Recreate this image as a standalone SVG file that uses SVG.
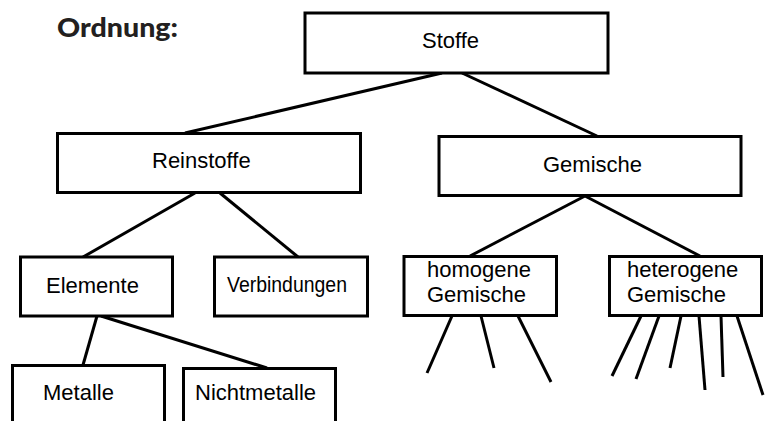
<svg xmlns="http://www.w3.org/2000/svg" width="767" height="421" viewBox="0 0 767 421">
  <style>
    .box { fill: #ffffff; stroke: #000000; stroke-width: 3; }
    .edge { fill: none; stroke: #000000; stroke-width: 3; stroke-linecap: butt; }
    .label { font-family: "Liberation Sans", Arial, sans-serif; font-size: 22px; fill: #000000; }
    .title { font-family: Lato, "Open Sans", sans-serif; font-weight: 900; font-size: 27px; fill: #231f20; }
  </style>

  <text class="title" x="57" y="37" textLength="121" lengthAdjust="spacingAndGlyphs">Ordnung:</text>

  <g id="connectors">
    <!-- Stoffe -->
    <line class="edge" x1="442" y1="73" x2="185" y2="133"/>
    <line class="edge" x1="462" y1="73" x2="597" y2="136"/>
    <!-- Reinstoffe -->
    <line class="edge" x1="195" y1="193" x2="83" y2="257"/>
    <line class="edge" x1="220" y1="193" x2="298" y2="257"/>
    <!-- Gemische -->
    <line class="edge" x1="585" y1="196" x2="470" y2="256"/>
    <line class="edge" x1="585" y1="196" x2="700" y2="256"/>
    <!-- Elemente -->
    <line class="edge" x1="97" y1="316" x2="83" y2="365"/>
    <line class="edge" x1="101" y1="316" x2="267" y2="368"/>
    <!-- homogene Gemische -->
    <line class="edge" x1="452" y1="316" x2="427" y2="373"/>
    <line class="edge" x1="481" y1="316" x2="494" y2="368"/>
    <line class="edge" x1="518" y1="316" x2="551" y2="382"/>
    <!-- heterogene Gemische -->
    <line class="edge" x1="641" y1="316" x2="612" y2="376"/>
    <line class="edge" x1="659" y1="316" x2="636" y2="379"/>
    <line class="edge" x1="681" y1="316" x2="670" y2="368"/>
    <line class="edge" x1="699" y1="316" x2="705" y2="390"/>
    <line class="edge" x1="721" y1="316" x2="723" y2="377"/>
    <line class="edge" x1="737" y1="316" x2="763" y2="395"/>
  </g>

  <g id="stoffe">
    <rect class="box" x="305" y="13" width="303" height="60"/>
    <text class="label" x="422" y="48">Stoffe</text>
  </g>

  <g id="reinstoffe">
    <rect class="box" x="57.5" y="133.5" width="303" height="59"/>
    <text class="label" x="152" y="168">Reinstoffe</text>
  </g>

  <g id="gemische">
    <rect class="box" x="439" y="136.5" width="302" height="59"/>
    <text class="label" x="543" y="172">Gemische</text>
  </g>

  <g id="elemente">
    <rect class="box" x="20.5" y="257" width="152" height="59"/>
    <text class="label" x="46" y="293">Elemente</text>
  </g>

  <g id="verbindungen">
    <rect class="box" x="214.5" y="257" width="153" height="59"/>
    <text class="label" x="227" y="292" textLength="120" lengthAdjust="spacingAndGlyphs">Verbindungen</text>
  </g>

  <g id="homogene-gemische">
    <rect class="box" x="404" y="256.5" width="152.5" height="59"/>
    <text class="label" x="427" y="277">homogene</text>
    <text class="label" x="427" y="302">Gemische</text>
  </g>

  <g id="heterogene-gemische">
    <rect class="box" x="609.5" y="256.5" width="152" height="59"/>
    <text class="label" x="627" y="277">heterogene</text>
    <text class="label" x="627" y="302">Gemische</text>
  </g>

  <g id="metalle">
    <rect class="box" x="12.5" y="365.5" width="152" height="70"/>
    <text class="label" x="43" y="400">Metalle</text>
  </g>

  <g id="nichtmetalle">
    <rect class="box" x="183.5" y="368.5" width="152" height="70"/>
    <text class="label" x="195" y="400">Nichtmetalle</text>
  </g>
</svg>
